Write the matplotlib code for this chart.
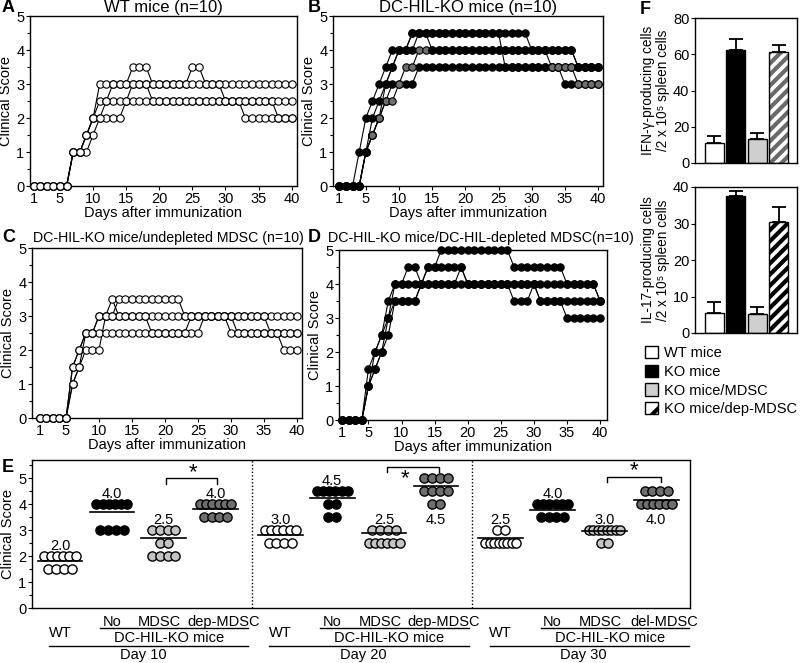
import numpy as np
import matplotlib
matplotlib.use('Agg')
import matplotlib.pyplot as plt
from matplotlib.transforms import blended_transform_factory
from matplotlib.patches import Patch
from matplotlib.ticker import MultipleLocator

plt.rcParams['font.family'] = ['Liberation Sans', 'DejaVu Sans']
plt.rcParams['font.size'] = 10
plt.rcParams['hatch.linewidth'] = 3.0

# ---------------- data ----------------
days = [1, 2, 3, 4, 5, 6, 7, 8, 9, 10, 11, 12, 13, 14, 15, 16, 17, 18, 19, 20,
        21, 22, 23, 24, 25, 26, 27, 28, 29, 30, 31, 32, 33, 34, 35, 36, 37, 38, 39, 40]
day_ticks = [1, 5, 10, 15, 20, 25, 30, 35, 40]

# Panel A: WT mice
A1 = [0, 0, 0, 0, 0, 0, 1, 1, 1.5, 2,
      3, 3, 3, 3, 3, 3.5, 3.5, 3.5, 3, 3,
      3, 3, 3, 3, 3.5, 3.5, 3, 3, 3, 3,
      3, 3, 3, 3, 3, 3, 3, 3, 3, 3]
A2 = [0, 0, 0, 0, 0, 0, 1, 1, 1, 1.5,
      2, 2, 2, 2, 2.5, 3, 3, 3, 2.5, 2.5,
      2.5, 2.5, 2.5, 2.5, 2.5, 2.5, 2.5, 2.5, 2.5, 2.5,
      2.5, 2.5, 2, 2, 2, 2, 2, 2, 2, 2]
A3 = [0, 0, 0, 0, 0, 0, 1, 1, 1.5, 2,
      2.5, 2.5, 2.5, 2.5, 2.5, 2.5, 2.5, 2.5, 2.5, 2.5,
      2.5, 2.5, 2.5, 2.5, 2.5, 2.5, 2.5, 2.5, 2.5, 2.5,
      2.5, 2.5, 2.5, 2.5, 2.5, 2.5, 2.5, 2, 2, 2]
A4 = [0, 0, 0, 0, 0, 0, 1, 1, 1.5, 2,
      2, 2.5, 3, 3, 3, 3, 3, 3, 3, 3,
      3, 3, 3, 3, 3, 3, 3, 3, 3, 2.5,
      2.5, 2.5, 2.5, 2.5, 2.5, 2.5, 2.5, 2.5, 2.5, 2.5]

# Panel B: DC-HIL-KO mice (Bg = grey-symbol mouse)
B2 = [0, 0, 0, 0, 1, 1.5, 2, 3, 3.5, 4,
      4, 4, 4.5, 4.5, 4.5, 4.5, 4.5, 4.5, 4.5, 4.5,
      4.5, 4.5, 4.5, 4.5, 4.5, 3.5, 3.5, 3.5, 3.5, 3.5,
      3.5, 3.5, 3.5, 3.5, 3.5, 3.5, 3.5, 3.5, 3.5, 3.5]
B5 = [0, 0, 0, 0, 1, 1.5, 2, 2.5, 3, 3,
      3, 3, 3.5, 3.5, 3.5, 3.5, 3.5, 3.5, 3.5, 3.5,
      3.5, 3.5, 3.5, 3.5, 3.5, 3.5, 3.5, 3.5, 3.5, 3.5,
      3.5, 3.5, 3.5, 3.5, 3, 3, 3, 3, 3, 3]
Bg = [0, 0, 0, 0, 1, 1.5, 2, 2.5, 2.5, 3,
      3.5, 3.5, 4, 4, 4, 4, 4, 4, 4, 4,
      4, 4, 4, 4, 4, 4, 4, 4, 4, 4,
      4, 4, 3.5, 3.5, 3.5, 3.5, 3, 3, 3, 3]
B1 = [0, 0, 0, 1, 2, 2.5, 3, 3.5, 4, 4,
      4, 4.5, 4.5, 4.5, 4.5, 4.5, 4.5, 4.5, 4.5, 4.5,
      4.5, 4.5, 4.5, 4.5, 4.5, 4.5, 4.5, 4.5, 4.5, 4,
      4, 4, 4, 4, 4, 4, 3.5, 3.5, 3.5, 3.5]
B3 = [0, 0, 0, 0, 1, 2, 2.5, 3, 3.5, 4,
      4, 4.5, 4.5, 4.5, 4, 4, 4, 4, 4, 4,
      4, 4, 4, 4, 4, 4, 4, 4, 4, 4,
      4, 4, 4, 4, 4, 4, 3.5, 3.5, 3.5, 3.5]

# Panel C: DC-HIL-KO mice / undepleted MDSC
C1 = [0, 0, 0, 0, 0, 1.5, 2, 2.5, 2.5, 3,
      3, 3.5, 3, 3, 3, 3, 3, 3, 3, 3,
      3, 3, 3, 3, 3, 3, 3, 3, 3, 3,
      3, 3, 3, 3, 3, 3, 3, 3, 3, 3]
C2 = [0, 0, 0, 0, 0, 1, 1.5, 2, 2, 2,
      3, 3, 3, 3, 3, 3, 3, 2.5, 2.5, 2.5,
      2.5, 2.5, 2.5, 2.5, 2.5, 3, 3, 3, 3, 3,
      2.5, 2.5, 2.5, 2.5, 2.5, 2.5, 2.5, 2.5, 2.5, 2.5]
C3 = [0, 0, 0, 0, 0, 1.5, 2, 2.5, 2.5, 2.5,
      2.5, 2.5, 2.5, 2.5, 2.5, 2.5, 2.5, 2.5, 2.5, 2.5,
      2.5, 2.5, 2.5, 3, 3, 3, 3, 3, 3, 3,
      3, 3, 3, 3, 3, 2.5, 2.5, 2, 2, 2]
C4 = [0, 0, 0, 0, 0, 1, 1.5, 2.5, 2.5, 3,
      3, 3, 3.5, 3.5, 3.5, 3.5, 3.5, 3.5, 3.5, 3.5,
      3.5, 3.5, 3, 3, 3, 3, 3, 3, 3, 2.5,
      2.5, 2.5, 2.5, 2.5, 2.5, 2.5, 2.5, 2.5, 2.5, 2.5]

# Panel D: DC-HIL-KO mice / DC-HIL-depleted MDSC
D1 = [0, 0, 0, 0, 1, 2, 2.5, 3.5, 4, 4,
      4.5, 4.5, 4, 4.5, 4.5, 5, 5, 5, 5, 5,
      5, 5, 5, 5, 5, 5, 4.5, 4.5, 4.5, 4.5,
      4.5, 4.5, 4.5, 4.5, 4, 4, 4, 4, 4, 3.5]
D2 = [0, 0, 0, 0, 1, 1.5, 2, 3, 3.5, 3.5,
      3.5, 3.5, 4, 4, 4, 4, 4, 4, 4.5, 4,
      4, 4, 4, 4, 4, 4, 3.5, 3.5, 3.5, 4,
      3.5, 3.5, 3.5, 3.5, 3.5, 3.5, 3.5, 3.5, 3.5, 3.5]
D3 = [0, 0, 0, 0, 1.5, 2, 2.5, 3, 4, 4,
      4, 4, 4, 4.5, 4.5, 4.5, 4.5, 4.5, 4.5, 4,
      4, 4, 4, 4, 4, 4, 4, 4, 4, 4,
      4, 4, 4, 4, 4, 4, 4, 4, 4, 3.5]
D4 = [0, 0, 0, 0, 1, 1.5, 2, 2.5, 3.5, 3.5,
      3.5, 3.5, 4, 4, 4, 4, 4, 4, 4, 4,
      4, 4, 4, 4, 4, 4, 4, 4, 4, 4,
      3.5, 3.5, 3.5, 3.5, 3, 3, 3, 3, 3, 3]

# Panel E: scores of individual mice (10 per group)
e_groups = ['WT', 'No', 'MDSC', 'dep-MDSC']
e_days = ['Day 10', 'Day 20', 'Day 30']
e10_wt = [2, 2, 2, 2, 2, 2, 1.5, 1.5, 1.5, 1.5]
e10_no = [4, 4, 4, 4, 4, 4, 3, 3, 3, 3]
e10_mdsc = [3, 3, 3, 3, 2.5, 2.5, 2, 2, 2, 2]
e10_dep = [4, 4, 4, 4, 4, 4, 3.5, 3.5, 3.5, 3.5]
e20_wt = [3, 3, 3, 3, 3, 3, 2.5, 2.5, 2.5, 2.5]
e20_no = [4.5, 4.5, 4.5, 4.5, 4.5, 4.5, 4, 4, 3.5, 3.5]
e20_mdsc = [3, 3, 3, 3, 2.5, 2.5, 2.5, 2.5, 2.5, 2.5]
e20_dep = [5, 5, 5, 5, 4.5, 4.5, 4.5, 4.5, 4, 4]
e30_wt = [3, 3, 2.5, 2.5, 2.5, 2.5, 2.5, 2.5, 2.5, 2.5]
e30_no = [4, 4, 4, 4, 4, 4, 3.5, 3.5, 3.5, 3.5]
e30_mdsc = [3, 3, 3, 3, 3, 3, 3, 3, 2.5, 2.5]
e30_dep = [4.5, 4.5, 4.5, 4.5, 4, 4, 4, 4, 4, 4]
e10_lines = [1.82, 3.70, 2.69, 3.80]
e20_lines = [2.80, 4.23, 2.88, 4.69]
e30_lines = [2.69, 3.77, 2.96, 4.15]
e10_median = ['2.0', '4.0', '2.5', '4.0']
e20_median = ['3.0', '4.5', '2.5', '4.5']
e30_median = ['2.5', '4.0', '3.0', '4.0']

# Panel F
f_labels = ['WT mice', 'KO mice', 'KO mice/MDSC', 'KO mice/dep-MDSC']
ifn_vals = [11.0, 62.1, 13.2, 61.0]
ifn_err = [3.7, 6.5, 3.3, 3.9]
il17_vals = [5.5, 37.4, 5.1, 30.3]
il17_err = [3.0, 1.4, 2.1, 4.2]

# ---------------- figure ----------------
W, H = 800, 663
fig = plt.figure(figsize=(W / 100, H / 100), dpi=100)


def add_ax(l, t, r, b):
    return fig.add_axes([l / W, 1 - b / H, (r - l) / W, (b - t) / H])


def line_panel(box, xlim, title, series, tsize, tx=0.5, tpad=3):
    ax = add_ax(*box)
    for vals, face in series:
        ax.plot(days, vals, color='black', lw=0.8, marker='o', ms=5.3,
                mfc=face, mec='black', mew=0.8, clip_on=False, zorder=3)
    ax.set_xlim(*xlim)
    ax.set_ylim(0, 5)
    ax.set_xticks(day_ticks)
    ax.set_yticks([0, 1, 2, 3, 4, 5])
    ax.yaxis.set_minor_locator(MultipleLocator(0.5))
    ax.tick_params(axis='both', direction='out', length=3, width=0.8,
                   labelsize=10.5, pad=1)
    ax.tick_params(axis='y', which='minor', length=2, width=0.8)
    ax.set_xlabel('Days after immunization', fontsize=10.5, labelpad=0)
    ax.set_ylabel('Clinical Score', fontsize=10.5, labelpad=2)
    t = ax.set_title(title, fontsize=tsize, pad=tpad)
    t.set_x(tx)
    for s in ax.spines.values():
        s.set_linewidth(1)
    return ax


GRAY_DOT = '#6e6e6e'
line_panel((30, 16, 297, 186), (0.47, 40.8), 'WT mice (n=10)',
           [(A1, 'white'), (A2, 'white'), (A3, 'white'), (A4, 'white')], 12)
line_panel((333, 16, 603, 186), (0.05, 40.75), 'DC-HIL-KO mice (n=10)',
           [(B2, 'black'), (B5, 'black'), (Bg, GRAY_DOT), (B1, 'black'), (B3, 'black')], 12)
line_panel((32, 248, 302, 418), (-0.15, 40.76), 'DC-HIL-KO mice/undepleted MDSC (n=10)',
           [(C1, 'white'), (C2, 'white'), (C3, 'white'), (C4, 'white')], 10.2, 0.505, 4)
line_panel((339, 250, 607, 420), (0.55, 41.05), 'DC-HIL-KO mice/DC-HIL-depleted MDSC(n=10)',
           [(D1, 'black'), (D2, 'black'), (D3, 'black'), (D4, 'black')], 10.3, 0.53, 6)

# ---------------- Panel E ----------------
axE = add_ax(32, 460, 690, 608)
axE.set_xlim(-0.54, 12.15)
axE.set_ylim(0, 5.7)
axE.set_xticks([])
axE.set_yticks([0, 1, 2, 3, 4, 5])
axE.yaxis.set_minor_locator(MultipleLocator(0.5))
axE.tick_params(axis='y', direction='out', length=3, width=0.8, labelsize=10.5, pad=1)
axE.tick_params(axis='y', which='minor', length=2, width=0.8)
axE.set_ylabel('Clinical Score', fontsize=10.5, labelpad=2)
for s in axE.spines.values():
    s.set_linewidth(1)

group_x = [[0, 1, 2, 3], [4.25, 5.25, 6.25, 7.25], [8.5, 9.5, 10.5, 11.5]]
e_data = [[e10_wt, e10_no, e10_mdsc, e10_dep],
          [e20_wt, e20_no, e20_mdsc, e20_dep],
          [e30_wt, e30_no, e30_mdsc, e30_dep]]
e_lines = [e10_lines, e20_lines, e30_lines]
e_medians = [e10_median, e20_median, e30_median]
e_face = ['white', 'black', '#c4c4c4', '#6e6e6e']
label_below = [[False] * 4, [False, False, False, True], [False, False, False, True]]

for k in range(3):
    for g in range(4):
        x0 = group_x[k][g]
        vals = np.array(e_data[k][g])
        for v in sorted(set(vals), reverse=True):
            n = int((vals == v).sum())
            sp = min(0.15, 0.6 / (n - 1)) if n > 1 else 0
            xs = x0 + (np.arange(n) - (n - 1) / 2) * sp
            axE.scatter(xs, [v] * n, s=44, facecolor=e_face[g], edgecolor='black',
                        linewidth=1, zorder=3)
        m = e_lines[k][g]
        axE.plot([x0 - 0.43, x0 + 0.43], [m, m], color='black', lw=1.2, zorder=4)
        if label_below[k][g]:
            axE.text(x0, vals.min() - 0.63, e_medians[k][g], ha='center', va='center', fontsize=10.5)
        else:
            axE.text(x0, vals.max() + 0.4, e_medians[k][g], ha='center', va='center', fontsize=10.5)

for xv in (3.7, 7.95):
    axE.axvline(xv, color='black', lw=1, ls=(0, (1, 1.5)))

# significance brackets: (x1, x2, top, bottom, star_x, star_y)
brackets = [(2.05, 3.02, 5.0, 4.77, 2.56, 5.22),
            (6.3, 7.3, 5.42, 5.22, 6.66, 4.97),
            (10.55, 11.6, 5.04, 4.85, 11.07, 5.27)]
for x1, x2, top, bot, sx, sy in brackets:
    axE.plot([x1, x1, x2, x2], [bot, top, top, bot], color='black', lw=1)
    axE.text(sx, sy, '*', ha='center', va='center', fontsize=16)

trans = blended_transform_factory(axE.transData, axE.transAxes)
for k in range(3):
    o = group_x[k][0]
    last = 'del-MDSC' if k == 2 else 'dep-MDSC'
    axE.text(o, -0.17, 'WT', transform=trans, ha='center', va='center', fontsize=10.5)
    axE.text(o + 1, -0.095, 'No', transform=trans, ha='center', va='center', fontsize=10.5)
    axE.text(o + 1.92, -0.095, 'MDSC', transform=trans, ha='center', va='center', fontsize=10.5)
    axE.text(o + 3.15, -0.095, last, transform=trans, ha='center', va='center', fontsize=10.5)
    axE.plot([o + 0.77, o + 3.63], [-0.138, -0.138], transform=trans, color='black', lw=1, clip_on=False)
    axE.text(o + 2.1, -0.2, 'DC-HIL-KO mice', transform=trans, ha='center', va='center', fontsize=10.5)
    axE.plot([o - 0.21, o + 3.63], [-0.255, -0.255], transform=trans, color='black', lw=1, clip_on=False)
    axE.text(o + 1.6, -0.315, e_days[k], transform=trans, ha='center', va='center', fontsize=10.5)

# ---------------- Panel F ----------------
def bar_panel(box, vals, errs, ylim, yticks, ylabel, hatch_color):
    ax = add_ax(*box)
    xs = np.arange(len(vals))
    w = 0.89
    faces = ['white', 'black', '#cfcfcf']
    for i in range(3):
        ax.bar(xs[i], vals[i], w, color=faces[i], edgecolor='black', lw=1, zorder=2)
    ax.bar(xs[3], vals[3], w, color='white', edgecolor=hatch_color, hatch='///', lw=0, zorder=2)
    ax.bar(xs[3], vals[3], w, fill=False, edgecolor='black', lw=1, zorder=3)
    ax.errorbar(xs, vals, yerr=[np.zeros(len(vals)), errs], fmt='none', ecolor='black',
                elinewidth=1.3, capsize=5, capthick=1.3, zorder=1)
    ax.set_xlim(-0.9, 3.85)
    ax.set_ylim(*ylim)
    ax.set_xticks([])
    ax.set_yticks(yticks)
    ax.tick_params(axis='y', direction='out', length=3, width=0.8, labelsize=10.5, pad=1)
    ax.set_ylabel(ylabel, fontsize=9.8, labelpad=2, linespacing=1.1)
    for s in ax.spines.values():
        s.set_linewidth(1)
    return ax


bar_panel((695, 18, 797, 163), ifn_vals, ifn_err, (0, 80), [0, 20, 40, 60, 80],
          'IFN-\u03b3-producing cells\n/2 x 10\u2075 spleen cells', '#6a6a6a')
bar_panel((695, 187, 797, 333), il17_vals, il17_err, (0, 40), [0, 10, 20, 30, 40],
          'IL-17-producing cells\n/2 x 10\u2075 spleen cells', 'black')

handles = [Patch(facecolor='white', edgecolor='black', lw=1),
           Patch(facecolor='black', edgecolor='black', lw=1),
           Patch(facecolor='#cfcfcf', edgecolor='black', lw=1),
           Patch(facecolor='white', edgecolor='black', hatch='/', lw=1)]
fig.legend(handles, f_labels, loc='upper left', bbox_to_anchor=(645 / W, 1 - 346 / H),
           frameon=False, handlelength=0.9, handleheight=0.9, handletextpad=0.4,
           labelspacing=0.32, fontsize=10.5, borderpad=0, borderaxespad=0)

# panel letters
for letter, (px, py) in {'A': (2, 8), 'B': (308, 8), 'C': (2, 237), 'D': (308, 237),
                         'E': (2, 467), 'F': (640, 10)}.items():
    fig.text(px / W, 1 - py / H, letter, fontsize=13, fontweight='bold', ha='left', va='center')

fig.savefig('out.png', dpi=100, facecolor='white')
